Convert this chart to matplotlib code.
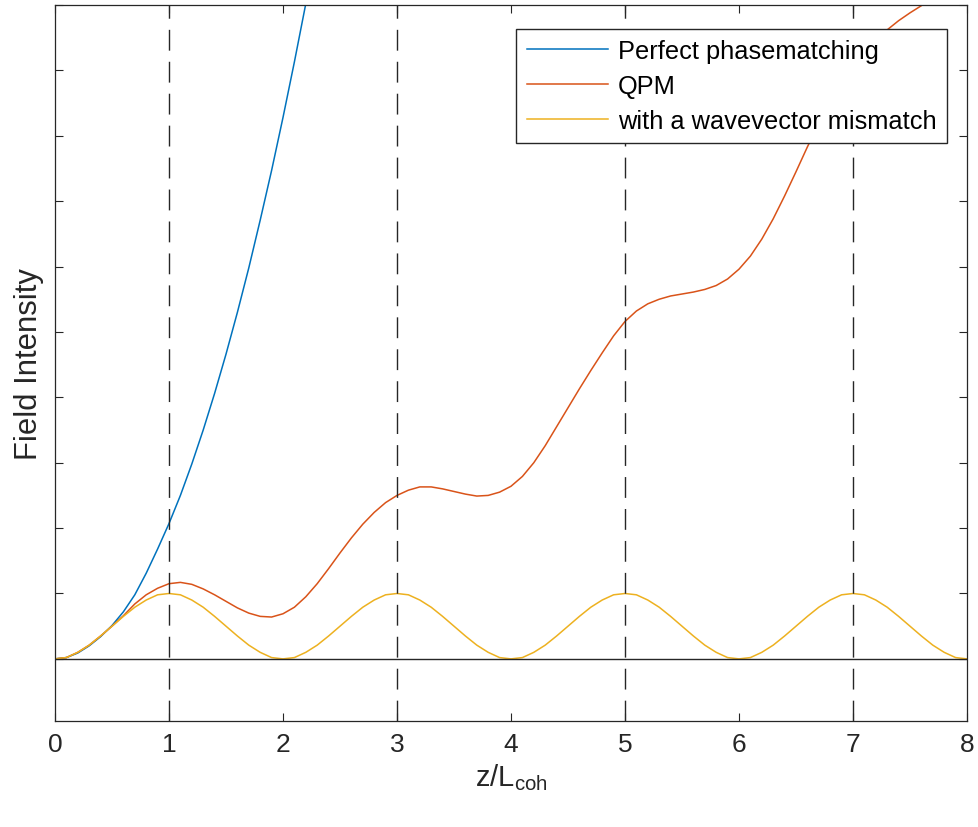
import matplotlib
matplotlib.use("Agg")
import matplotlib.pyplot as plt
import numpy as np

plt.rcParams['font.family'] = ['Liberation Sans', 'DejaVu Sans']
plt.rcParams['mathtext.default'] = 'regular'

# z / L_coh sampled every 0.1
z = np.round(np.arange(0, 81) * 0.1, 1)

# values
blue_z = z[:24]
perfect_pm = [0.00, 0.02, 0.09, 0.20, 0.34, 0.51, 0.72, 0.98, 1.31, 1.68,
              2.07, 2.50, 2.98, 3.50, 4.06, 4.66, 5.30, 5.98, 6.71, 7.47,
              8.28, 9.13, 10.02, 10.95]

red_z = z[:79]
qpm = [0.00, 0.02, 0.10, 0.21, 0.35, 0.50, 0.66, 0.84, 0.98, 1.08,
       1.15, 1.17, 1.14, 1.07, 0.98, 0.88, 0.78, 0.70, 0.65, 0.64,
       0.69, 0.79, 0.95, 1.15, 1.38, 1.62, 1.85, 2.06, 2.24, 2.39,
       2.50, 2.58, 2.63, 2.63, 2.60, 2.56, 2.52, 2.49, 2.50, 2.55,
       2.64, 2.79, 3.00, 3.26, 3.55, 3.84, 4.13, 4.41, 4.68, 4.94,
       5.16, 5.32, 5.43, 5.50, 5.55, 5.58, 5.61, 5.65, 5.71, 5.81,
       5.96, 6.16, 6.42, 6.73, 7.08, 7.45, 7.83, 8.19, 8.52, 8.82,
       9.07, 9.28, 9.46, 9.62, 9.76, 9.88, 9.99, 10.10, 10.21]

mismatch = [0.00, 0.02, 0.10, 0.21, 0.35, 0.50, 0.65, 0.79, 0.90, 0.98,
            1.00, 0.98, 0.90, 0.79, 0.65, 0.50, 0.35, 0.21, 0.10, 0.02,
            0.00, 0.02, 0.10, 0.21, 0.35, 0.50, 0.65, 0.79, 0.90, 0.98,
            1.00, 0.98, 0.90, 0.79, 0.65, 0.50, 0.35, 0.21, 0.10, 0.02,
            0.00, 0.02, 0.10, 0.21, 0.35, 0.50, 0.65, 0.79, 0.90, 0.98,
            1.00, 0.98, 0.90, 0.79, 0.65, 0.50, 0.35, 0.21, 0.10, 0.02,
            0.00, 0.02, 0.10, 0.21, 0.35, 0.50, 0.65, 0.79, 0.90, 0.98,
            1.00, 0.98, 0.90, 0.79, 0.65, 0.50, 0.35, 0.21, 0.10, 0.02,
            0.00]

labels = ['Perfect phasematching', 'QPM', 'with a wavevector mismatch']
domain_walls = [1, 3, 5, 7]

fig = plt.figure(figsize=(9.79, 8.28), dpi=100)
ax = fig.add_axes([55 / 979, 106 / 828, 912 / 979, 716 / 828])

ax.plot(blue_z, perfect_pm, color=(0, 0.447, 0.741), lw=1.1, label=labels[0])
ax.plot(red_z, qpm, color=(0.85, 0.325, 0.098), lw=1.1, label=labels[1])
ax.plot(z, mismatch, color=(0.929, 0.694, 0.125), lw=1.1, label=labels[2])

for zw in domain_walls:
    ax.axvline(zw, color='#262626', lw=1.0, dashes=(15, 8))
ax.axhline(0, color='#262626', lw=1.0)

ax.set_xlim(0, 8)
ax.set_ylim(-0.95, 10)
ax.set_xticks(range(9))
ax.set_yticks(range(0, 11))
ax.set_yticklabels([])
ax.tick_params(direction='in', top=True, right=True, length=6, width=0.8,
               color='#262626', labelcolor='#262626', labelsize=19, pad=8)
for s in ax.spines.values():
    s.set_color('#262626')
    s.set_linewidth(0.9)

ax.set_xlabel('$z/L_{coh}$', fontsize=21, color='#262626', labelpad=4)
ax.set_ylabel('Field Intensity', fontsize=22.3, color='#262626', labelpad=0)

leg = ax.legend(loc='upper right', bbox_to_anchor=(0.978, 0.967),
                borderaxespad=0, fontsize=18.3, fancybox=False,
                framealpha=1, edgecolor='#262626', handlelength=3.2,
                handletextpad=0.4, labelspacing=0.43, borderpad=0.4)
leg.get_frame().set_linewidth(1.0)

fig.savefig('out.png', dpi=100)
